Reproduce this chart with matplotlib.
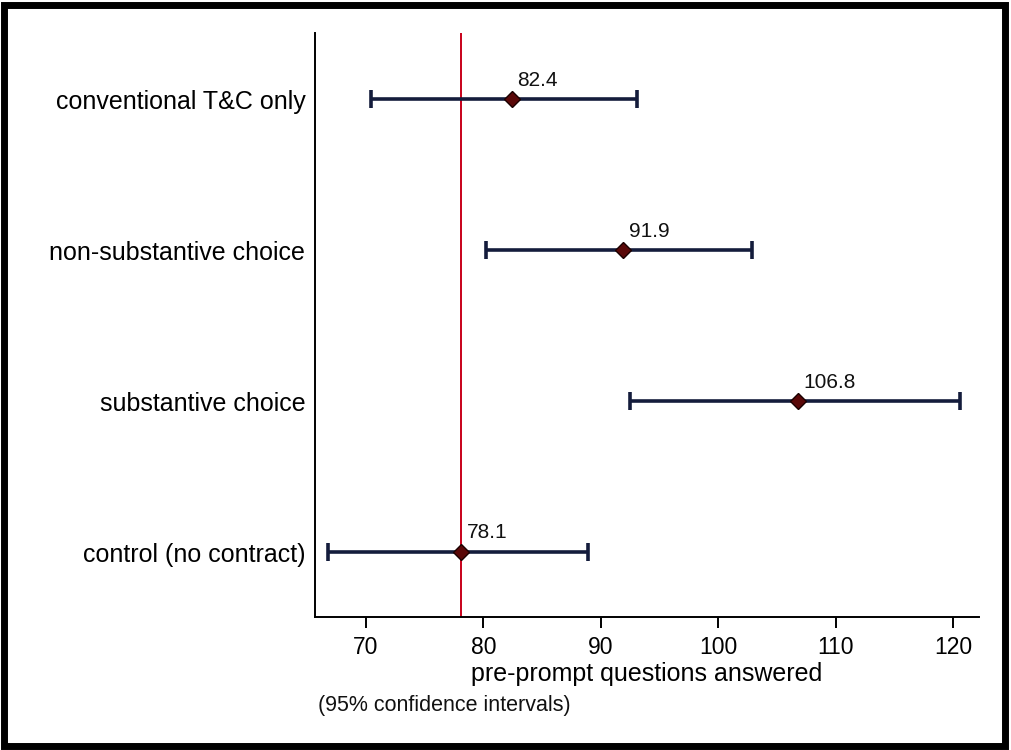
import matplotlib
matplotlib.use("Agg")
from matplotlib import pyplot as plt
from matplotlib.patches import Rectangle

plt.rcParams['font.family'] = ['Liberation Sans', 'DejaVu Sans']

groups = ["control (no contract)", "substantive choice",
          "non-substantive choice", "conventional T&C only"]
means = [78.1, 106.8, 91.9, 82.4]
ci_low = [66.8, 92.5, 80.2, 70.4]
ci_high = [88.9, 120.6, 102.9, 93.1]
ref_value = 78.1
xticks = [70, 80, 90, 100, 110, 120]

fig = plt.figure(figsize=(10.11, 7.5), dpi=100)
ax = fig.add_axes([0.3116, 0.1773, 0.6567, 0.7787])

ypos = list(range(1, len(groups) + 1))
err = [[m - lo for m, lo in zip(means, ci_low)],
       [hi - m for m, hi in zip(means, ci_high)]]

ax.axvline(ref_value, color='#c8001a', lw=1.4, zorder=1)
ax.errorbar(means, ypos, xerr=err, fmt='none', ecolor='#141c3c',
            elinewidth=2.6, capsize=6.5, capthick=2.6, zorder=2)
ax.plot(means, ypos, 'D', ms=8, mfc='#5a0808', mec='#1a0000', mew=1.0, zorder=3)

for m, y in zip(means, ypos):
    ax.annotate(f"{m:.1f}", (m, y), xytext=(4, 7), textcoords='offset points',
                ha='left', va='bottom', fontsize=15, color='#111111')

ax.set_xlim(65.66, 122.2)
ax.set_ylim(0.57, 4.44)
ax.set_xticks(xticks)
ax.set_xticklabels([str(t) for t in xticks], fontsize=16.5)
ax.set_yticks(ypos)
ax.set_yticklabels(groups, fontsize=18)
ax.tick_params(axis='y', length=0, pad=7)
ax.tick_params(axis='x', length=8, width=1.4, pad=6, direction='out')
ax.spines['top'].set_visible(False)
ax.spines['right'].set_visible(False)
ax.spines['left'].set_linewidth(1.4)
ax.spines['bottom'].set_linewidth(1.4)
ax.set_xlabel("pre-prompt questions answered", fontsize=18, labelpad=2)

fig.text(0.3145, 0.06, "(95% confidence intervals)", fontsize=15.5,
         ha='left', va='center', color='#111111')

fig.patches.append(Rectangle((0.004, 0.005), 0.99, 0.988, transform=fig.transFigure,
                             fill=False, lw=5, ec='black'))

fig.savefig("out.png", dpi=100)
